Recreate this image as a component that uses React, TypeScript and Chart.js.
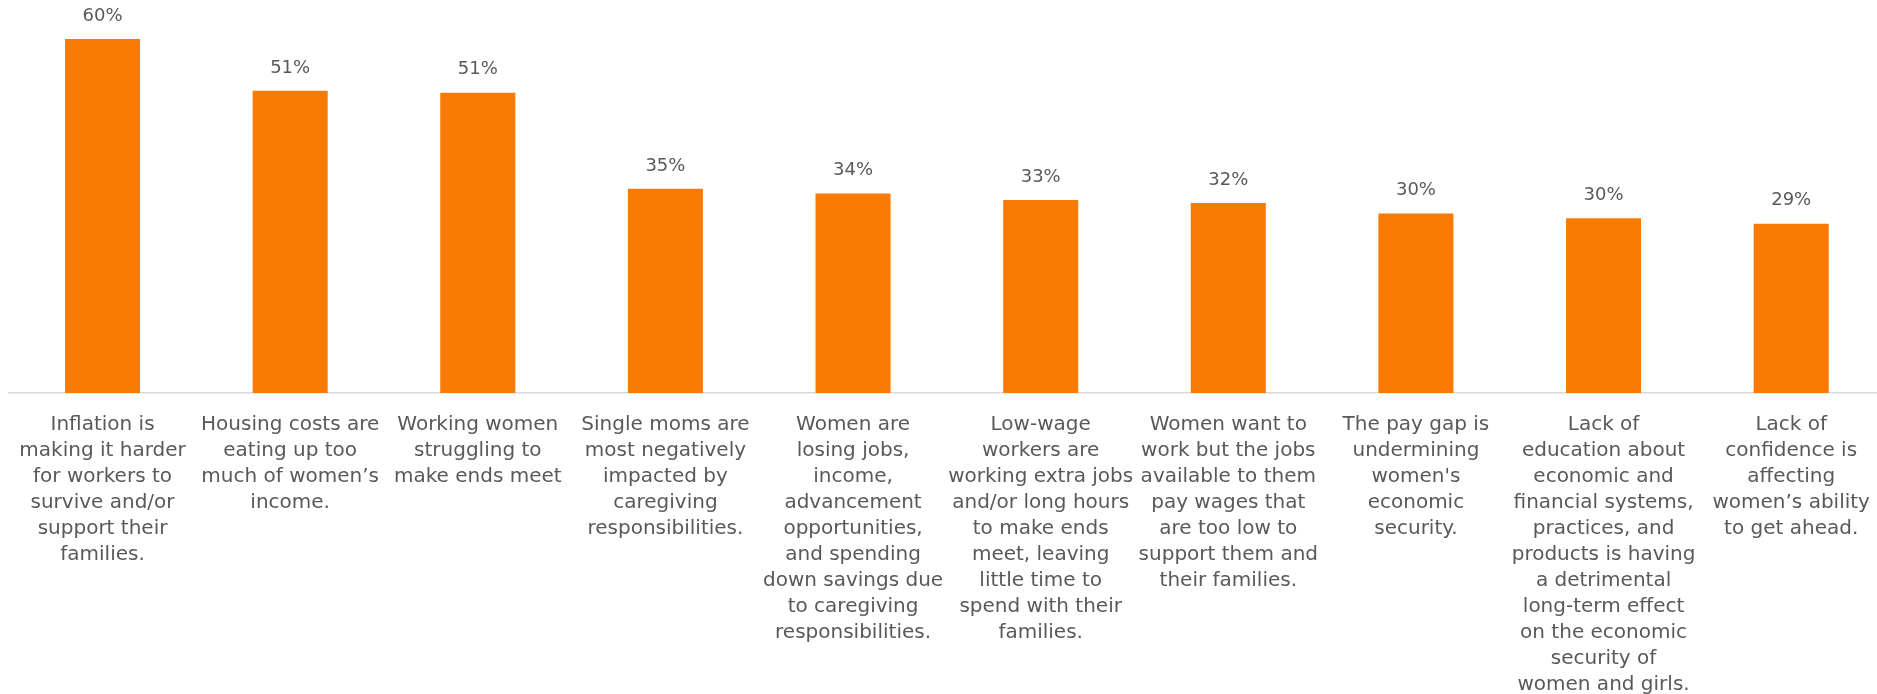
import React, { useEffect, useRef } from 'react';
import { Chart, registerables } from 'chart.js';

Chart.register(...registerables);

const categories: string[][] = [
  ['Inflation is', 'making it harder', 'for workers to', 'survive and/or', 'support their', 'families.'],
  ['Housing costs are', 'eating up too', 'much of women\u2019s', 'income.'],
  ['Working women', 'struggling to', 'make ends meet'],
  ['Single moms are', 'most negatively', 'impacted by', 'caregiving', 'responsibilities.'],
  ['Women are', 'losing jobs,', 'income,', 'advancement', 'opportunities,', 'and spending', 'down savings due', 'to caregiving', 'responsibilities.'],
  ['Low-wage', 'workers are', 'working extra jobs', 'and/or long hours', 'to make ends', 'meet, leaving', 'little time to', 'spend with their', 'families.'],
  ['Women want to', 'work but the jobs', 'available to them', 'pay wages that', 'are too low to', 'support them and', 'their families.'],
  ['The pay gap is', 'undermining', "women's", 'economic', 'security.'],
  ['Lack of', 'education about', 'economic and', 'financial systems,', 'practices, and', 'products is having', 'a detrimental', 'long-term effect', 'on the economic', 'security of', 'women and girls.'],
  ['Lack of', 'confidence is', 'affecting', 'women\u2019s ability', 'to get ahead.'],
];

const values: number[] = [60.0, 51.2, 50.9, 34.6, 33.8, 32.7, 32.2, 30.4, 29.6, 28.7];

const Y_MAX = 66.6;
const BAR_COLOR = '#F97B05';
const TEXT_COLOR = '#595959';
const FONT = "'DejaVu Sans', sans-serif";

const valueLabels = {
  id: 'valueLabels',
  afterDatasetsDraw(chart: any) {
    const ctx = chart.ctx;
    const meta = chart.getDatasetMeta(0);
    ctx.save();
    ctx.fillStyle = TEXT_COLOR;
    ctx.font = `18px ${FONT}`;
    ctx.textAlign = 'center';
    ctx.textBaseline = 'middle';
    meta.data.forEach((bar: any, i: number) => {
      const v = chart.data.datasets[0].data[i] as number;
      ctx.fillText(`${Math.round(v)}%`, bar.x, bar.y - 23);
    });
    ctx.restore();
  },
};

export default function App() {
  const ref = useRef<HTMLCanvasElement>(null);
  useEffect(() => {
    document.body.style.margin = '0';
    document.body.style.overflow = 'hidden';
    const chart = new Chart(ref.current as HTMLCanvasElement, {
      type: 'bar',
      data: {
        labels: categories as any,
        datasets: [
          {
            data: values,
            backgroundColor: BAR_COLOR,
            barPercentage: 0.4,
            categoryPercentage: 1,
          },
        ],
      },
      options: {
        animation: false,
        responsive: false,
        maintainAspectRatio: false,
        layout: { padding: { left: 7, right: 5, top: 0, bottom: 0 } },
        plugins: { legend: { display: false }, tooltip: { enabled: false } },
        scales: {
          x: {
            grid: { display: false, drawTicks: false },
            border: { display: true, color: '#d9d9d9', width: 1.5 },
            ticks: {
              autoSkip: false,
              maxRotation: 0,
              minRotation: 0,
              color: TEXT_COLOR,
              padding: 19,
              font: { family: FONT, size: 20, lineHeight: 1.3 },
            },
            afterFit: (s: any) => {
              s.height = 301;
            },
          },
          y: { display: false, min: 0, max: Y_MAX },
        },
      },
      plugins: [valueLabels],
    });
    return () => chart.destroy();
  }, []);
  return <canvas ref={ref} width={1890} height={694} style={{ display: 'block' }} />;
}
